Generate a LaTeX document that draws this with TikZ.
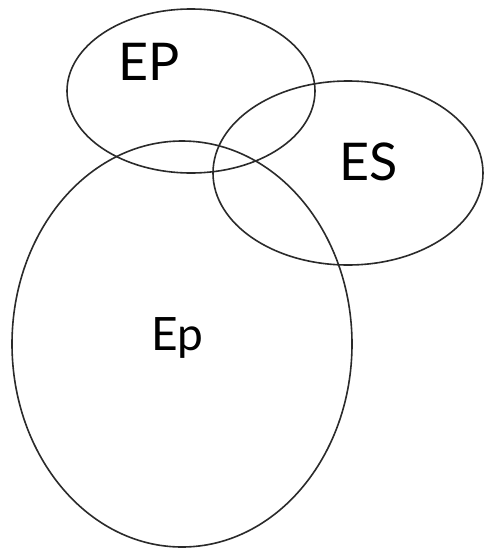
\documentclass[tikz,border=0pt]{standalone}
\usepackage{fontspec}
\setmainfont{Lato}
\definecolor{Cline}{HTML}{2a2a2a}

\begin{document}
\begin{tikzpicture}[x=1pt, y=-1pt,
		setline/.style={Cline, line width=1.6pt},
		setlabel/.style={font=\fontsize{52}{52}\selectfont, inner sep=0pt}]
		
		\useasboundingbox (0,0) rectangle (484,552);
		
		%% upper ellipse — EP
		\draw[setline] (191,91) ellipse [x radius=124pt, y radius=82pt];
		
		%% right ellipse — ES
		\draw[setline] (348,173) ellipse [x radius=135pt, y radius=92pt];
		
		%% lower ellipse — Ep
		\draw[setline] (182,344) ellipse [x radius=170pt, y radius=203pt];
		
		%% ── labels ──────────────────────────────────────────
		\node[setlabel] (ep)  at (149,62)  {EP};
		\node[setlabel] (es)  at (369,162) {ES};
		\node[setlabel, font=\fontsize{46}{46}\selectfont, anchor=base] (epl) at (177,350) {Ep};
		
	\end{tikzpicture}
\end{document}
